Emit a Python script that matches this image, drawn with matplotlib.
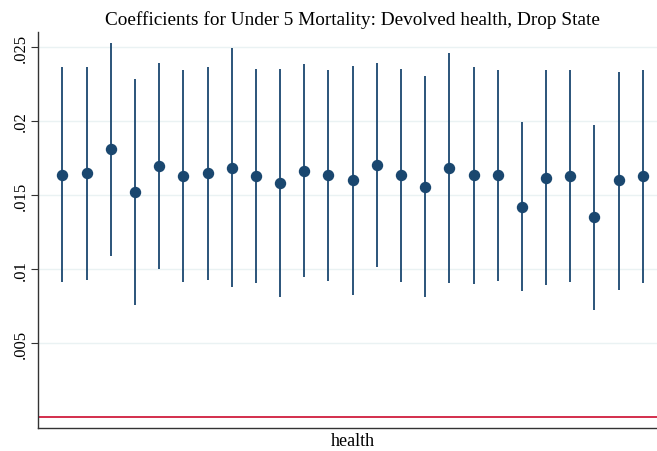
import matplotlib
matplotlib.use("Agg")
import matplotlib.pyplot as plt
import numpy as np

# point estimates and 95% bounds, one per dropped state
coef = [0.01638, 0.01646, 0.01811, 0.01520, 0.01696, 0.01626, 0.01646, 0.01686,
        0.01626, 0.01583, 0.01666, 0.01633, 0.01601, 0.01705, 0.01635, 0.01558,
        0.01684, 0.01635, 0.01635, 0.01423, 0.01617, 0.01630, 0.01349, 0.01599,
        0.01626]
upper = [0.02365, 0.02367, 0.02529, 0.02284, 0.02392, 0.02342, 0.02367, 0.02495,
         0.02349, 0.02351, 0.02382, 0.02347, 0.02372, 0.02392, 0.02353, 0.02301,
         0.02457, 0.02367, 0.02347, 0.01993, 0.02342, 0.02347, 0.01970, 0.02333,
         0.02345]
lower = [0.00912, 0.00926, 0.01090, 0.00757, 0.01000, 0.00912, 0.00926, 0.00878,
         0.00907, 0.00815, 0.00950, 0.00919, 0.00828, 0.01018, 0.00914, 0.00813,
         0.00910, 0.00903, 0.00921, 0.00851, 0.00892, 0.00916, 0.00727, 0.00860,
         0.00910]
yticks = [0.005, 0.01, 0.015, 0.02, 0.025]
ytick_labels = [".005", ".01", ".015", ".02", ".025"]

plt.rcParams['font.family'] = ['Liberation Serif', 'DejaVu Serif']
navy = "#1a476f"

fig = plt.figure(figsize=(6.57, 4.52), dpi=100)
ax = fig.add_axes([38.3/657, 23/452, (667-38.3)/657, (429-33.3)/452])

x = np.arange(1, len(coef) + 1)
ax.vlines(x, lower, upper, color=navy, lw=1.3, zorder=3)
ax.plot(x, coef, 'o', color=navy, ms=7.2, mec=navy, zorder=4)
ax.axhline(0, color="#d01c3e", lw=1.3, zorder=2)

ax.set_xlim(0, 26)
ax.set_ylim(-0.00072, 0.02599)
ax.set_xticks([])
ax.set_yticks(yticks)
ax.set_yticklabels(ytick_labels, rotation=90, va='center', fontsize=12)
ax.yaxis.grid(True, color="#eaf2f3", lw=1.0)
ax.set_axisbelow(True)
ax.tick_params(axis='y', length=5, width=0.8, color="#333333", pad=2)

for s in ['top', 'right']:
    ax.spines[s].set_visible(False)
for s in ['left', 'bottom']:
    ax.spines[s].set_color("#333333")
    ax.spines[s].set_linewidth(1.0)

ax.set_xlabel("health", fontsize=13, labelpad=3)
fig.text(352/657, 1 - 20/452, "Coefficients for Under 5 Mortality: Devolved health, Drop State",
         ha='center', va='center', fontsize=13.9)

fig.savefig("out.png", dpi=100)
